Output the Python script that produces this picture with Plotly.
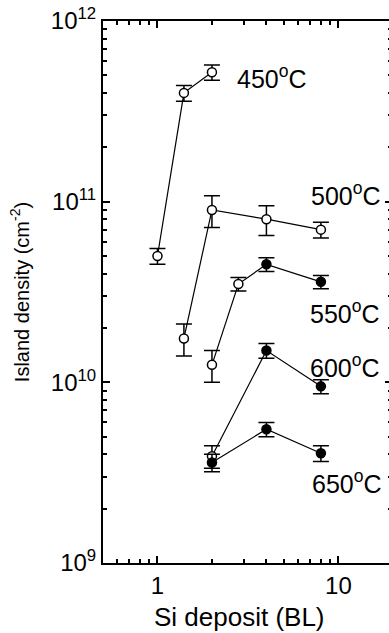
import math
import plotly.graph_objects as go

# ---- data ----
x450 = [1.0, 1.4, 2.0]
y450 = [5.0e10, 4.0e11, 5.2e11]
e450 = [0.5e10, 0.4e11, 0.5e11]
f450 = ["white", "white", "white"]

x500 = [1.4, 2.0, 4.0, 8.0]
y500 = [1.75e10, 9.0e10, 8.0e10, 7.0e10]
e500 = [0.35e10, 1.8e10, 1.5e10, 0.7e10]
f500 = ["white", "white", "white", "white"]

x550 = [2.0, 2.8, 4.0, 8.0]
y550 = [1.25e10, 3.5e10, 4.5e10, 3.6e10]
e550 = [0.25e10, 0.3e10, 0.4e10, 0.3e10]
f550 = ["white", "white", "black", "black"]

x600 = [2.0, 4.0, 8.0]
y600 = [3.9e9, 1.5e10, 9.5e9]
e600 = [0.55e9, 0.14e10, 0.85e9]
f600 = ["white", "black", "black"]

x650 = [2.0, 4.0, 8.0]
y650 = [3.6e9, 5.5e9, 4.05e9]
e650 = [0.4e9, 0.5e9, 0.4e9]
f650 = ["black", "black", "black"]

series = [
    ("450", x450, y450, e450, f450),
    ("500", x500, y500, e500, f500),
    ("550", x550, y550, e550, f550),
    ("600", x600, y600, e600, f600),
    ("650", x650, y650, e650, f650),
]

# label texts and anchor positions (x, y) in data units
label_texts = ["450<sup>o</sup>C", "500<sup>o</sup>C", "550<sup>o</sup>C",
               "600<sup>o</sup>C", "650<sup>o</sup>C"]
label_x = [2.68, 6.85, 6.78, 6.78, 7.0]
label_y = [10 ** 11.69, 10 ** 11.04, 10 ** 10.39, 10 ** 10.092, 10 ** 9.451]

ytickvals = [1e9, 1e10, 1e11, 1e12]
yticktext = ["10<sup>9</sup>", "10<sup>10</sup>", "10<sup>11</sup>", "10<sup>12</sup>"]
xtickvals = [1, 10]
xticktext = ["1", "10"]
xminor = [0.6, 0.7, 0.8, 0.9, 2, 3, 4, 5, 6, 7, 8, 9]
yminor = [k * 10 ** n for n in (9, 10, 11) for k in range(2, 10)]

FONT = "Liberation Sans, Arial, sans-serif"

fig = go.Figure()
for name, xs, ys, es, fills in series:
    fig.add_trace(go.Scatter(
        x=xs, y=ys, mode="lines+markers", name=name,
        line=dict(color="black", width=1.2),
        marker=dict(symbol="circle", size=9, color=fills,
                    line=dict(color="black", width=1.5)),
        error_y=dict(type="data", array=es, visible=True,
                     color="black", thickness=1.5, width=8),
        showlegend=False,
    ))

for txt, lx, ly in zip(label_texts, label_x, label_y):
    fig.add_annotation(
        x=math.log10(lx), y=math.log10(ly), xref="x", yref="y",
        text=txt, showarrow=False, xanchor="left", yanchor="middle",
        font=dict(family=FONT, size=25, color="black"),
    )

# x-axis title (as annotation so it can sit slightly left of centre)
fig.add_annotation(
    x=0.474, y=-0.099, xref="paper", yref="paper",
    text="Si deposit (BL)", showarrow=False, xanchor="center", yanchor="middle",
    font=dict(family=FONT, size=26, color="black"),
)

def axis_common(minor_vals):
    return dict(
        type="log", showgrid=False, zeroline=False, automargin=False,
        showline=True, linecolor="black", linewidth=2, mirror="allticks",
        ticks="inside", ticklen=7, tickwidth=1.5, tickcolor="black",
        minor=dict(ticks="inside", ticklen=4, tickwidth=1.5, tickcolor="black",
                   tickmode="array", tickvals=minor_vals, showgrid=False),
        tickfont=dict(family=FONT, size=24, color="black"),
    )

fig.update_xaxes(
    **axis_common(xminor),
    range=[math.log10(0.5), 1.296],
    tickvals=xtickvals, ticktext=xticktext,
)
fig.update_yaxes(
    **axis_common(yminor),
    range=[9, 12],
    tickvals=ytickvals, ticktext=yticktext,
    title=dict(text="Island density (cm<sup>-2</sup>)",
               font=dict(family=FONT, size=20, color="black"), standoff=16),
)

# the reference crops the right frame just outside the picture
fig.update_layout(
    width=392, height=633,
    margin=dict(l=103, r=0, t=21, b=70),
    plot_bgcolor="white", paper_bgcolor="white",
    font=dict(family=FONT, color="black"),
)

fig.write_html(
    "out.html",
    config={"displayModeBar": False},
    post_script="document.body.style.margin='0';document.body.style.overflow='hidden';",
)
